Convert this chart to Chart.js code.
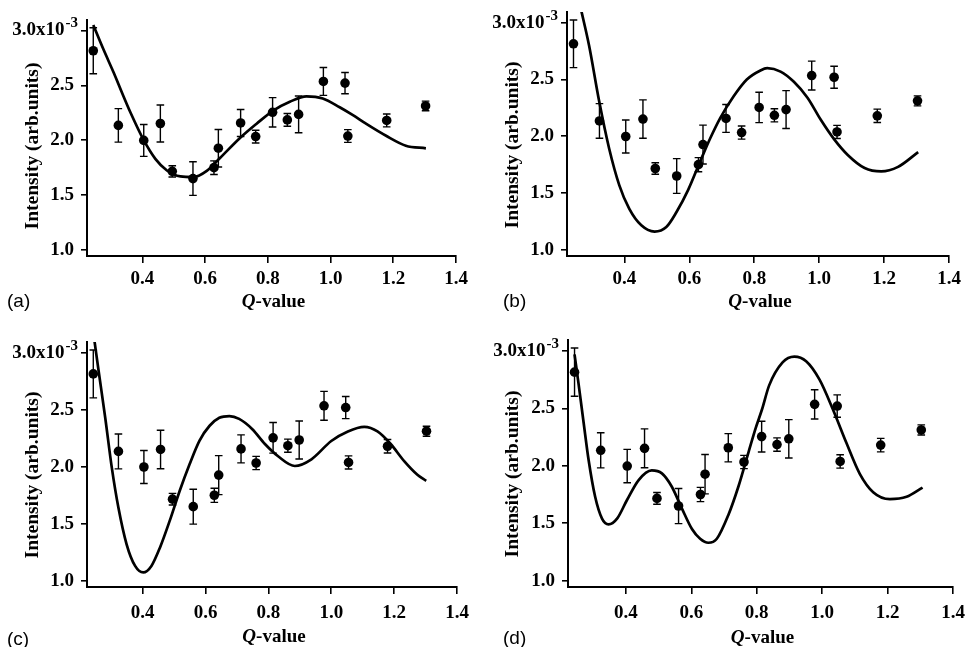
<!DOCTYPE html>
<html><head><meta charset="utf-8">
<script src="https://cdn.jsdelivr.net/npm/chart.js@4.4.1/dist/chart.umd.min.js"></script>
<style>
html,body{margin:0;padding:0;background:#fff;}
body{width:966px;height:647px;position:relative;overflow:hidden;}
.panel{position:absolute;}
</style></head><body>
<div class="panel" style="left:0;top:0;width:483px;height:323px"><canvas id="ca"></canvas></div>
<div class="panel" style="left:483px;top:0;width:483px;height:323px"><canvas id="cb"></canvas></div>
<div class="panel" style="left:0;top:323px;width:483px;height:324px"><canvas id="cc"></canvas></div>
<div class="panel" style="left:483px;top:323px;width:483px;height:324px"><canvas id="cd"></canvas></div>
<script>
// ---- data (intensity in units of 10^-3) ----
const qValues   = [0.243, 0.323, 0.404, 0.457, 0.495, 0.561, 0.628, 0.642, 0.713, 0.761, 0.815, 0.862, 0.898, 0.977, 1.046, 1.055, 1.179, 1.303];
const intensity = [2.815, 2.135, 1.998, 2.152, 1.716, 1.650, 1.750, 1.927, 2.157, 2.033, 2.254, 2.185, 2.235, 2.535, 2.520, 2.038, 2.180, 2.312];
const errors    = [0.210, 0.153, 0.145, 0.169, 0.051, 0.153, 0.062, 0.171, 0.123, 0.058, 0.134, 0.058, 0.167, 0.127, 0.097, 0.058, 0.059, 0.044];

const curveA_Q = [0.243,0.275,0.309,0.335,0.362,0.404,0.441,0.478,0.521,0.563,0.605,0.648,0.711,0.764,0.817,0.870,0.923,0.975,1.029,1.070,1.113,1.177,1.240,1.304];
const curveA_I = [3.05,2.83,2.61,2.43,2.25,2.00,1.83,1.724,1.67,1.664,1.72,1.84,2.02,2.15,2.27,2.35,2.40,2.38,2.30,2.23,2.15,2.04,1.95,1.926];

const curveB_Q = [0.266,0.291,0.322,0.353,0.384,0.415,0.452,0.493,0.529,0.560,0.596,0.633,0.664,0.695,0.736,0.777,0.819,0.840,0.881,0.922,0.964,1.005,1.047,1.088,1.140,1.191,1.243,1.305];
const curveB_I = [3.12,2.80,2.31,1.89,1.57,1.36,1.215,1.16,1.20,1.33,1.525,1.776,1.98,2.16,2.35,2.50,2.58,2.60,2.57,2.48,2.34,2.145,1.97,1.835,1.72,1.69,1.73,1.86];

const curveC_Q = [0.246,0.260,0.281,0.302,0.323,0.349,0.376,0.402,0.428,0.455,0.486,0.518,0.549,0.581,0.613,0.644,0.676,0.707,0.749,0.789,0.832,0.884,0.937,1.000,1.053,1.105,1.147,1.189,1.232,1.274,1.302];
const curveC_I = [3.12,2.84,2.43,1.99,1.64,1.32,1.13,1.073,1.13,1.29,1.525,1.79,2.02,2.23,2.36,2.43,2.445,2.42,2.33,2.20,2.09,2.007,2.066,2.226,2.31,2.35,2.31,2.20,2.05,1.93,1.876];

const curveD_Q = [0.243,0.255,0.271,0.286,0.306,0.327,0.347,0.373,0.403,0.439,0.479,0.510,0.540,0.571,0.602,0.627,0.652,0.678,0.713,0.744,0.775,0.797,0.816,0.838,0.879,0.915,0.951,0.992,1.033,1.074,1.115,1.156,1.207,1.258,1.307];
const curveD_I = [2.97,2.72,2.37,2.05,1.73,1.54,1.49,1.54,1.70,1.876,1.96,1.934,1.82,1.63,1.45,1.365,1.33,1.365,1.57,1.82,2.12,2.33,2.49,2.70,2.90,2.95,2.91,2.75,2.49,2.20,1.93,1.77,1.71,1.73,1.81];

const xTicks = [0.4, 0.6, 0.8, 1.0, 1.2, 1.4];
const yTicks = [1.0, 1.5, 2.0, 2.5, 3.0];
const panelLabels = ['(a)', '(b)', '(c)', '(d)'];
const yTitle = 'Intensity (arb.units)';
const xTitleItalic = 'Q';
const xTitleRest = '-value';
const topTickText = '3.0x10';
const topTickExp = '-3';

// ---- layout (pixel geometry per panel, local to each canvas) ----
const layouts = [
  {id:'ca', curveQ:curveA_Q, curveI:curveA_I, W:483, H:323, L:87, R:456, T:20, B:256, tickPad:5, xTitleY:302, labelX:7,  labelY:302, yTitleX:33, yTitleY:146},
  {id:'cb', curveQ:curveB_Q, curveI:curveB_I, W:483, H:323, L:84, R:466, T:12, B:256, tickPad:5, xTitleY:302, labelX:20, labelY:302, yTitleX:30, yTitleY:145},
  {id:'cc', curveQ:curveC_Q, curveI:curveC_I, W:483, H:324, L:87, R:457, T:19, B:264, tickPad:8, xTitleY:314, labelX:7,  labelY:317, yTitleX:33, yTitleY:152},
  {id:'cd', curveQ:curveD_Q, curveI:curveD_I, W:483, H:324, L:85, R:470, T:17, B:264, tickPad:8, xTitleY:315, labelX:20, labelY:316, yTitleX:30, yTitleY:151}
];
const X_MIN = 0.223, X_MAX = 1.4, Y_MIN = 0.945, Y_MAX = 3.095;
const SERIF = '"Liberation Serif", "Times New Roman", serif';
const SANS = '"Liberation Sans", Arial, sans-serif';
const X_AXIS_H = 40;

const errorBars = {
  id: 'errorBars',
  beforeDatasetsDraw(chart) {
    const {ctx, scales: {x, y}} = chart;
    ctx.save();
    ctx.strokeStyle = '#000';
    ctx.lineWidth = 1.4;
    for (let i = 0; i < qValues.length; i++) {
      const px = x.getPixelForValue(qValues[i]);
      const yT = y.getPixelForValue(intensity[i] + errors[i]);
      const yB = y.getPixelForValue(intensity[i] - errors[i]);
      ctx.beginPath();
      ctx.moveTo(px, yT); ctx.lineTo(px, yB);
      ctx.moveTo(px - 3.8, yT); ctx.lineTo(px + 3.8, yT);
      ctx.moveTo(px - 3.8, yB); ctx.lineTo(px + 3.8, yB);
      ctx.stroke();
    }
    ctx.restore();
  }
};

const texts = {
  id: 'texts',
  afterDraw(chart, args, opts) {
    const lay = opts.lay;
    const {ctx, chartArea, scales: {y}} = chart;
    ctx.save();
    ctx.fillStyle = '#000';
    // superscript on top tick
    ctx.font = 'bold 19px ' + SERIF;
    const full = topTickText + '\u2002';
    const xEnd = y.right - 6 - 7;
    const xs = xEnd - ctx.measureText(full).width + ctx.measureText(topTickText).width;
    const py = y.getPixelForValue(3.0);
    ctx.font = 'bold 15px ' + SERIF;
    ctx.textAlign = 'left';
    ctx.textBaseline = 'middle';
    ctx.fillText(topTickExp, xs + 1, py - 7);
    // x title
    const cx = (chartArea.left + chartArea.right) / 2 + 2;
    ctx.font = 'italic bold 19px ' + SERIF;
    const wq = ctx.measureText(xTitleItalic).width;
    ctx.font = 'bold 19px ' + SERIF;
    const wr = ctx.measureText(xTitleRest).width;
    const x0 = cx - (wq + wr) / 2;
    ctx.font = 'italic bold 19px ' + SERIF;
    ctx.fillText(xTitleItalic, x0, lay.xTitleY);
    ctx.font = 'bold 19px ' + SERIF;
    ctx.fillText(xTitleRest, x0 + wq, lay.xTitleY);
    // panel label
    ctx.font = '19px ' + SANS;
    ctx.fillText(panelLabels[opts.idx], lay.labelX, lay.labelY);
    // y title
    ctx.translate(lay.yTitleX, lay.yTitleY);
    ctx.rotate(-Math.PI / 2);
    ctx.textAlign = 'center';
    ctx.font = 'bold 19.5px ' + SERIF;
    ctx.fillText(yTitle, 0, 0);
    ctx.restore();
  }
};

layouts.forEach((lay, idx) => {
  const curve = lay.curveQ.map((q, i) => ({x: q, y: lay.curveI[i]}));
  const pts = qValues.map((q, i) => ({x: q, y: intensity[i]}));
  new Chart(document.getElementById(lay.id), {
    type: 'scatter',
    data: {
      datasets: [
        {data: curve, showLine: true, borderColor: '#000', borderWidth: 2.7, pointRadius: 0,
         cubicInterpolationMode: 'monotone', clip: 0, order: 2},
        {data: pts, pointRadius: 4.8, pointBackgroundColor: '#000', pointBorderWidth: 0,
         showLine: false, clip: false, order: 1}
      ]
    },
    options: {
      responsive: true, maintainAspectRatio: false, animation: false,
      devicePixelRatio: 1,
      layout: {padding: {left: 0, top: lay.T, right: lay.W - lay.R, bottom: lay.H - lay.B - X_AXIS_H}},
      plugins: {legend: {display: false}, tooltip: {enabled: false}, texts: {lay: lay, idx: idx}},
      scales: {
        x: {
          type: 'linear', min: X_MIN, max: X_MAX,
          afterBuildTicks: s => { s.ticks = xTicks.map(v => ({value: v})); },
          afterFit: s => { s.height = X_AXIS_H; s.paddingLeft = 0; s.paddingRight = 0; },
          grid: {drawOnChartArea: false, drawTicks: true, tickLength: 7, color: '#000', lineWidth: 1.6},
          border: {display: true, color: '#000', width: 2},
          ticks: {autoSkip: false, maxRotation: 0, color: '#000', padding: lay.tickPad,
                  font: {family: SERIF, weight: 'bold', size: 19},
                  callback: v => Number(v).toFixed(1)}
        },
        y: {
          type: 'linear', min: Y_MIN, max: Y_MAX,
          afterBuildTicks: s => { s.ticks = yTicks.map(v => ({value: v})); },
          afterFit: s => { s.width = lay.L; s.paddingTop = 0; s.paddingBottom = 0; },
          grid: {drawOnChartArea: false, drawTicks: true, tickLength: 6, color: '#000', lineWidth: 1.6},
          border: {display: true, color: '#000', width: 2},
          ticks: {autoSkip: false, color: '#000', padding: 7,
                  font: {family: SERIF, weight: 'bold', size: 19},
                  callback: v => Math.abs(v - 3) < 1e-9 ? topTickText + '\u2002' : Number(v).toFixed(1)}
        }
      }
    },
    plugins: [errorBars, texts]
  });
});
</script>
</body></html>
